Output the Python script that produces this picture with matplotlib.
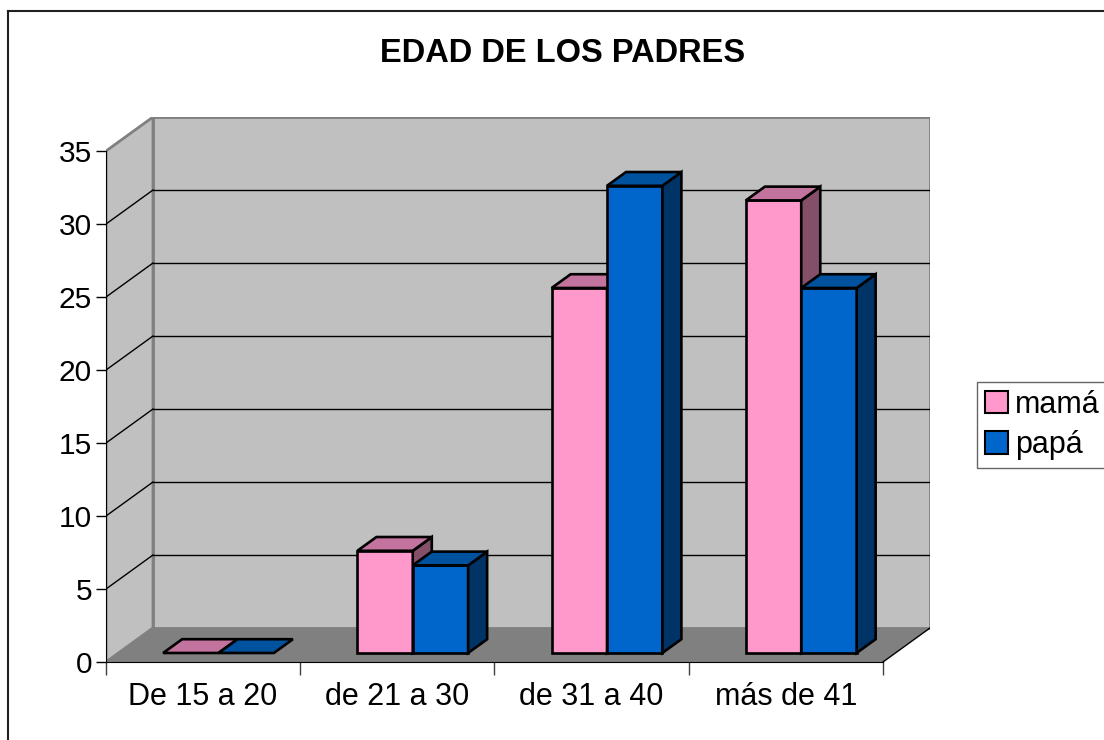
import matplotlib.pyplot as plt
from matplotlib.patches import Polygon, Patch
from matplotlib.lines import Line2D

categorias = ['De 15 a 20', 'de 21 a 30', 'de 31 a 40', 'más de 41']
mama = [0, 7, 25, 31]
papa = [0, 6, 32, 25]
series = ['mamá', 'papá']
yticks = [0, 5, 10, 15, 20, 25, 30, 35]

plt.rcParams['font.family'] = ['Liberation Sans', 'DejaVu Sans']

# colores: frente, arriba, lado
colores = {
    'mamá': ('#FF99CC', '#C2739E', '#844F69'),
    'papá': ('#0066CC', '#00529E', '#003366'),
}

W, H = 1104, 740
DX = 0.242      # profundidad en unidades de categoria
DY = 2.33       # profundidad en unidades de valor
YMAX = 35
f0, f1 = 0.265, 0.67   # la barra ocupa esta parte de la profundidad
b0, bw = 0.23, 0.285   # inicio y ancho de barra dentro de la categoria

fig = plt.figure(figsize=(W / 100, H / 100), dpi=100)
ax = fig.add_axes([106 / W, (H - 662) / H, (930 - 106) / W, (662 - 117) / H])
n = len(categorias)
ax.set_xlim(0, n + DX)
ax.set_ylim(0, YMAX + DY)

# paredes y piso
pared = '#C0C0C0'
borde = '#808080'
ax.add_patch(Polygon([(DX, DY), (n + DX, DY), (n + DX, YMAX + DY), (DX, YMAX + DY)],
                     closed=True, fc=pared, ec=borde, lw=2, zorder=1))
ax.add_patch(Polygon([(0, 0), (DX, DY), (DX, YMAX + DY), (0, YMAX)],
                     closed=True, fc=pared, ec=borde, lw=2, zorder=1))
ax.add_patch(Polygon([(0, 0), (n, 0), (n + DX, DY), (DX, DY)],
                     closed=True, fc=borde, ec='none', zorder=2))
ax.plot([n, n + DX], [0, DY], color='black', lw=1, zorder=3)

# lineas de division
for v in yticks[1:-1]:
    ax.plot([DX, n + DX], [v + DY, v + DY], color='black', lw=1, zorder=2)
    ax.plot([0, DX], [v, v + DY], color='black', lw=1, zorder=2)


def barra(x0, valor, serie, z):
    frente, arriba, lado = colores[serie]
    ax0 = x0 + f0 * DX
    ax1 = x0 + bw + f0 * DX
    y0 = f0 * DY
    ex, ey = (f1 - f0) * DX, (f1 - f0) * DY
    kw = dict(closed=True, ec='black', lw=1.9, joinstyle='miter', zorder=z)
    if valor > 0:
        ax.add_patch(Polygon([(ax0, y0), (ax1, y0), (ax1, y0 + valor), (ax0, y0 + valor)],
                             fc=frente, **kw))
        ax.add_patch(Polygon([(ax1, y0), (ax1 + ex, y0 + ey), (ax1 + ex, y0 + ey + valor),
                              (ax1, y0 + valor)], fc=lado, **kw))
    ax.add_patch(Polygon([(ax0, y0 + valor), (ax1, y0 + valor), (ax1 + ex, y0 + ey + valor),
                          (ax0 + ex, y0 + ey + valor)], fc=arriba, **kw))


z = 5
for i in range(n):
    barra(i + b0, mama[i], 'mamá', z)
    barra(i + b0 + bw, papa[i], 'papá', z + 1)
    z += 2

# ejes
for s in ['top', 'right']:
    ax.spines[s].set_visible(False)
ax.spines['left'].set_bounds(0, YMAX)
ax.spines['bottom'].set_bounds(0, n)
ax.spines['left'].set_zorder(20)
ax.spines['bottom'].set_zorder(20)
ax.set_yticks(yticks)
ax.set_yticklabels([str(t) for t in yticks], fontsize=21.5)
ax.tick_params(axis='y', direction='out', length=7, width=1, pad=3)
ax.set_xticks(range(n + 1))
ax.set_xticklabels([])
ax.tick_params(axis='x', direction='out', length=9, width=1, color='#404040')
for i, c in enumerate(categorias):
    ax.text(i + 0.5, -2.4, c, ha='center', va='center', fontsize=22)

fig.text(563 / W, 1 - 53 / H, 'EDAD DE LOS PADRES', ha='center', va='center',
         fontsize=23.5, fontweight='bold')

# leyenda
handles = [Patch(fc=colores[s][0], ec='black', lw=1.5) for s in series]
leg = fig.legend(handles, series, loc='upper left', bbox_to_anchor=(977 / W, 1 - 382 / H),
                 fontsize=22, frameon=True, fancybox=False, borderpad=0.25,
                 handlelength=0.75, handleheight=0.75, handletextpad=0.25,
                 labelspacing=0.35, borderaxespad=0)
leg.get_frame().set_edgecolor('#404040')
leg.get_frame().set_linewidth(1)

# marco
fig.add_artist(Line2D([8 / W, 1], [1 - 11 / H, 1 - 11 / H], color='#202020', lw=1.5))
fig.add_artist(Line2D([8 / W, 8 / W], [0, 1 - 11 / H], color='#202020', lw=1.5))

fig.savefig('out.png', dpi=100)
